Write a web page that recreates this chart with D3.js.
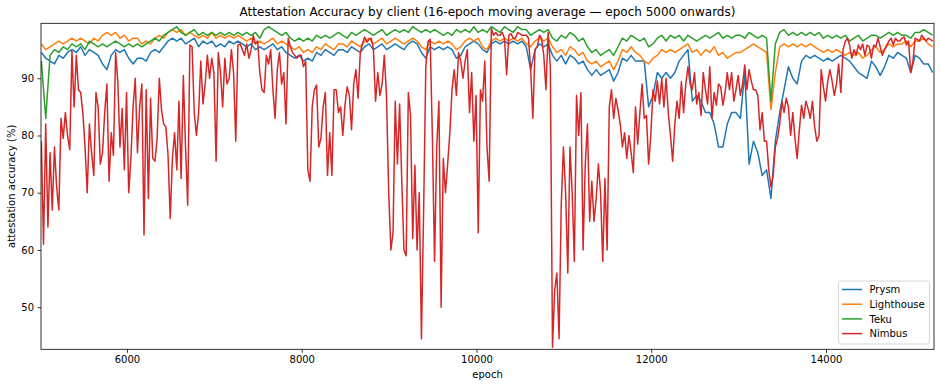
<!DOCTYPE html>
<html>
<head>
<meta charset="utf-8">
<script src="https://d3js.org/d3.v7.min.js"></script>
<style>
  body { margin: 0; background: #ffffff; }
  text { font-family: "DejaVu Sans", sans-serif; fill: #000; }
</style>
</head>
<body>
<div id="chart"></div>
<script>
// moving averages; first sample at epoch 5020
// Prysm / Lighthouse / Teku every 50 epochs, Nimbus (spikier) every 25
var firstEpoch = 5020, epochStep = 50, nimbusStep = 25;

var prysm = [
  94.5, 93.5, 93, 92.5, 94, 93.5, 94.5, 95, 94.5, 95.5, 94, 95, 94.5, 94, 92.5, 91.5, 94, 95, 94.5, 95, 93.5, 92.5, 93.5,
  93.5, 93, 94.5, 95, 94.5, 95.5, 96.5, 97, 96.5, 97, 96, 96.5, 97, 95.5, 96.5, 96, 96.5, 95.5, 96, 95.5, 96.5, 96, 96.5, 96,
  95.5, 96, 95, 95.5, 95, 95.5, 96, 95, 95.5, 94.5, 94, 93.5, 94, 93, 93.5, 93, 94.5, 94, 95, 94.5, 94, 95, 95,
  94.5, 95.5, 95, 94.5, 95.5, 96, 95, 95.5, 96, 95, 95.5, 96, 95.5, 95, 96, 96.5, 96, 94.5, 93.5, 95.5, 95, 95.5, 95,
  95.5, 95, 93.5, 94, 95.5, 96, 96.5, 96, 95, 94.5, 96, 96.5, 96, 96.5, 96, 96.5, 96, 96.5, 95.5, 91.5, 95, 96,
  95.5, 96, 94, 93, 94, 92.5, 94, 93.5, 92.5, 93, 91.5, 90.5, 91.5, 90.5, 91, 91.5, 89.5, 91, 93.5, 93, 94, 93, 93,
  93, 85, 87, 91, 90, 91, 90, 91, 93, 94, 95, 86, 87, 86, 84, 84, 82, 78, 78, 82, 84, 84, 83,
  91, 75, 79, 77, 73, 74, 69, 79, 84, 88, 92, 90, 89, 93, 94, 93.5, 94, 93.5, 93, 93.5, 93, 93.5, 94,
  93.5, 93, 92, 91, 90.5, 90, 93, 92, 90.5, 92, 94, 93.5, 94.5, 94, 93.5, 91, 94, 93.5, 92.5, 92.5, 91
];
var lighthouse = [
  96, 95, 95.5, 96, 96.5, 96, 96.5, 97, 96.5, 97, 96.5, 96, 97, 96.5, 97.5, 98, 97.5, 98, 97, 97.5, 96.5, 97, 97,
  96, 96.5, 96, 97, 97.5, 97, 98, 98.5, 98, 98.5, 97.5, 98, 97.5, 97, 97.5, 97, 98, 97, 97.5, 97, 97.5, 97, 97.5, 97,
  96.5, 97, 96, 96.5, 96, 96.5, 97, 96, 96.5, 96, 95.5, 95, 95.5, 94.5, 95, 94.5, 95.5, 95, 96, 95.5, 95, 96, 96,
  95.5, 96.5, 96, 95.5, 96.5, 97, 96, 96.5, 97, 96, 96.5, 97, 96.5, 96, 96.5, 97, 96.5, 95.5, 95, 96.5, 96, 96.5, 96,
  96.5, 96, 95, 95.5, 96.5, 97, 96.5, 97, 95.5, 95, 96.5, 97, 96.5, 97, 96.5, 97, 96.5, 97, 96, 95.5, 96.5, 97,
  96.5, 97, 95.5, 94.5, 95, 94, 95.5, 95, 94, 94.5, 93, 92.5, 93, 92, 92.5, 93, 91.5, 93, 95, 94.5, 95.5, 94.5, 94,
  93, 92.5, 93.5, 94, 95, 94.5, 95, 94.5, 95, 95.5, 96, 94.5, 95, 94, 95, 94.5, 95.5, 94, 94.5, 93.5, 94, 94.5, 94.5,
  95, 95.5, 96, 95.5, 95, 94.5, 84.5, 91, 95.5, 96, 95.5, 96, 95.5, 96, 95.5, 96, 95.5, 95, 94.5, 95, 94.5, 95, 94.5,
  94, 94.5, 94, 94.5, 93.5, 94, 95, 95.5, 94.5, 95, 96, 95.5, 96, 96, 96.5, 95.5, 96.5, 96.5, 97, 96, 95.5
];
var teku = [
  93, 83, 94, 95, 94.5, 95.5, 95, 96, 95.5, 96, 95, 96.5, 96, 95.5, 96, 95.5, 96, 96.5, 96, 95.5, 96, 95.5, 96,
  95.5, 96, 96.5, 97, 96.5, 97.5, 98, 98.5, 99, 98, 97.5, 98, 98.5, 97.5, 98, 97.5, 98, 97.5, 98, 97.5, 98, 97.5, 98, 97.5,
  98, 97.5, 98, 97, 98.5, 99, 98.5, 98, 97.5, 98, 97, 96.5, 97, 96.5, 97, 96.5, 97.5, 97, 97.5, 97, 97.5, 98, 97.5,
  97, 98, 97.5, 98, 98.5, 98, 97.5, 98, 98.5, 97.5, 98, 98.5, 98, 98.5, 98, 99, 98.5, 98, 98.5, 98, 98.5, 98, 97.5,
  98, 97.5, 98.5, 98, 98.5, 98, 99, 98, 98.5, 98, 99, 98.5, 98, 99, 98.5, 98, 99, 98.5, 98.5, 97.5, 98, 98.5,
  98, 98.5, 97, 96.5, 97.5, 97, 98, 97.5, 96.5, 97, 95.5, 94.5, 95, 94, 94.5, 95, 94, 95.5, 97, 96.5, 97.5, 97, 96.5,
  97, 95.5, 96, 97, 97.5, 96.5, 97.5, 97, 97.5, 96.5, 97.5, 97, 96.5, 97, 97.5, 97, 97.5, 98, 97, 97.5, 97, 97.5, 97.5,
  97, 98, 97.5, 97, 97.5, 97, 86, 96, 98, 98.5, 97.5, 98, 97.5, 98, 97.5, 98, 97.5, 98, 97, 97.5, 97, 97.5, 97,
  97.5, 96.5, 97, 97.5, 96.5, 97, 97.5, 97.5, 97, 97.5, 98, 97.5, 98, 97.5, 97.5, 97, 98, 98, 98.5, 98, 97.5
];
var nimbus = [
  79, 61, 82, 64, 77, 67, 78, 71, 67, 83, 79.5, 84, 80, 77.5, 94.7, 85, 94, 88, 87.5, 84, 78, 70, 82, 77, 73,
  87.5, 85, 75, 77, 84, 89, 72, 80.5, 76.5, 94.5, 89.5, 78, 84.7, 74, 87.5, 70, 76, 85, 90, 77, 85, 89,
  62.6, 88, 69, 86.5, 76, 75.5, 79.5, 90, 84.5, 82, 81.5, 76.5, 65.5, 76, 80.5, 74, 86, 72.5, 90.5, 78, 67.8,
  95.8, 95.5, 84, 80, 84, 93, 85.5, 89, 94, 90, 93.5, 91, 75.5, 94.5, 91, 85, 93.5, 89, 90, 95, 91, 79, 95.8, 96,
  95, 94, 96, 93.5, 95, 97.5, 96, 96.5, 91, 88, 87.5, 94, 92.5, 95, 88, 83, 91.5, 94.5, 89, 91, 82, 97, 95.5,
  94.5, 94, 93.5, 94, 94, 92, 93, 74, 72, 85, 88, 88.8, 78, 79.5, 85, 87.5, 73, 80.5, 73, 88, 88, 84, 85, 80,
  85.3, 88.5, 87, 81, 89, 91.5, 86.5, 94.5, 96, 97.2, 96.3, 96.8, 97, 95.2, 86, 91, 87, 89, 94, 87, 70.2, 60, 63,
  86, 75, 85.5, 72, 60, 59, 87.5, 83.5, 62, 74.8, 60, 70, 44.5, 67, 92, 96.4, 96.8, 80, 58, 78, 86, 50, 76,
  70, 75, 80.5, 88, 91.5, 87, 94.5, 93, 90, 93, 95, 84, 91, 79, 87, 63, 88, 86, 93, 78, 72, 98.7, 97.5,
  98, 97.5, 97.5, 98, 97, 90.6, 97.5, 97.8, 97, 97, 98, 97.8, 97.5, 97.5, 97.5, 97, 91.5, 83, 95, 95.5, 97.5, 97, 94,
  88, 98, 92, 43, 53, 56, 44.5, 68, 78, 70, 56, 78, 70, 58, 87, 80, 87.5, 60, 75, 82, 65, 72, 65,
  69, 75, 70, 58, 72.5, 60, 85, 88, 83, 86.5, 84.5, 82, 78, 80.5, 76, 80, 77, 73.5, 85, 78.5, 84, 89, 83,
  83.5, 75, 80, 88, 86, 89.5, 85.5, 90, 85, 90, 84, 80, 75.5, 82, 86, 83, 89.4, 84, 89, 92, 89, 88, 91,
  85.5, 87.5, 83.5, 91, 88, 85.5, 92, 83, 87.5, 85.3, 89, 88.5, 85.3, 87.5, 91, 88, 91, 86, 88, 90.5, 87, 89,
  92.3, 88, 91.5, 89.5, 88, 88, 87, 81, 84, 79, 79, 74, 71, 73, 78, 79.5, 82, 86, 84, 86.5, 85, 80, 84,
  79.5, 76, 81, 85.3, 83, 86, 84.7, 83, 86, 81.5, 79, 80, 91.5, 88.5, 86, 89.5, 91.5, 89.5, 87, 89, 92.5, 87.5, 95,
  96.4, 97, 95.8, 93.5, 95, 94, 95.8, 95, 96, 94, 95.8, 95.5, 93.5, 95.8, 95.5, 97, 95.5, 94, 95, 95.8,
  96.5, 97, 95.8, 97, 96.5, 96.5, 97, 97.2, 95.8, 96.5, 91, 93, 97, 96.8, 96.5, 97.5, 97, 96.5, 97, 96.8, 96.5
];

var clients = ["Prysm", "Lighthouse", "Teku", "Nimbus"];
var colors = ["#1f77b4", "#ff7f0e", "#2ca02c", "#d62728"];
var xTicks = [6000, 8000, 10000, 12000, 14000];
var yTicks = [50, 60, 70, 80, 90];

var width = 940, height = 387;
var plot = {left: 41, right: 934, top: 23.3, bottom: 349.3};

var svg = d3.select("#chart").append("svg")
  .attr("width", width)
  .attr("height", height);

var x = d3.scaleLinear().domain([5016, 15236]).range([plot.left, plot.right]);
var y = d3.scaleLinear().domain([42.65, 99.6]).range([plot.bottom, plot.top]);

svg.append("clipPath").attr("id", "clip")
  .append("rect")
  .attr("x", plot.left).attr("y", plot.top)
  .attr("width", plot.right - plot.left).attr("height", plot.bottom - plot.top);

function lineFor(step) {
  return d3.line()
    .x(function (d, i) { return x(firstEpoch + i * step); })
    .y(function (d) { return y(d); });
}

var series = [
  {values: prysm, step: epochStep},
  {values: lighthouse, step: epochStep},
  {values: teku, step: epochStep},
  {values: nimbus, step: nimbusStep}
];
svg.append("g").attr("clip-path", "url(#clip)")
  .selectAll("path")
  .data(series)
  .enter()
  .append("path")
    .attr("d", function (s) { return lineFor(s.step)(s.values); })
    .attr("fill", "none")
    .attr("stroke", function (d, i) { return colors[i]; })
    .attr("stroke-width", 1.5)
    .attr("stroke-linejoin", "round");

// axes
var xAxis = svg.append("g")
  .attr("transform", "translate(0," + plot.bottom + ")")
  .call(d3.axisBottom(x).tickValues(xTicks).tickFormat(d3.format("d")).tickSizeOuter(0).tickSize(3.5).tickPadding(3.5));
var yAxis = svg.append("g")
  .attr("transform", "translate(" + plot.left + ",0)")
  .call(d3.axisLeft(y).tickValues(yTicks).tickSizeOuter(0).tickSize(3.5).tickPadding(3.5));
[xAxis, yAxis].forEach(function (a) {
  a.select(".domain").remove();
  a.selectAll("line").attr("stroke", "#000").attr("stroke-width", 0.8);
  a.selectAll("text").style("font-size", "10px").style("font-family", "DejaVu Sans");
});

// frame
svg.append("rect")
  .attr("x", plot.left).attr("y", plot.top)
  .attr("width", plot.right - plot.left).attr("height", plot.bottom - plot.top)
  .attr("fill", "none").attr("stroke", "#000").attr("stroke-width", 0.8);

svg.append("text")
  .attr("x", (plot.left + plot.right) / 2).attr("y", 16)
  .attr("text-anchor", "middle")
  .style("font-size", "12px")
  .text("Attestation Accuracy by client (16-epoch moving average \u2014 epoch 5000 onwards)");

svg.append("text")
  .attr("x", (plot.left + plot.right) / 2).attr("y", 378)
  .attr("text-anchor", "middle")
  .style("font-size", "10px")
  .text("epoch");

svg.append("text")
  .attr("transform", "translate(15," + ((plot.top + plot.bottom) / 2) + ") rotate(-90)")
  .attr("text-anchor", "middle")
  .style("font-size", "10px")
  .text("attestation accuracy (%)");

// legend, lower right
var legend = svg.append("g").attr("transform", "translate(838.5,281)");
legend.append("rect")
  .attr("width", 91).attr("height", 63).attr("rx", 2.5)
  .attr("fill", "#fff").attr("fill-opacity", 0.8)
  .attr("stroke", "#ccc").attr("stroke-width", 0.8);
var rows = legend.selectAll("g.row")
  .data(clients)
  .enter()
  .append("g")
    .attr("class", "row")
    .attr("transform", function (d, i) { return "translate(0," + (8.5 + i * 14.7) + ")"; });
rows.append("line")
  .attr("x1", 3.5).attr("x2", 23.5)
  .attr("stroke", function (d, i) { return colors[i]; })
  .attr("stroke-width", 1.5);
rows.append("text")
  .attr("x", 31).attr("y", 3.6)
  .style("font-size", "10px")
  .text(function (d) { return d; });
</script>
</body>
</html>
